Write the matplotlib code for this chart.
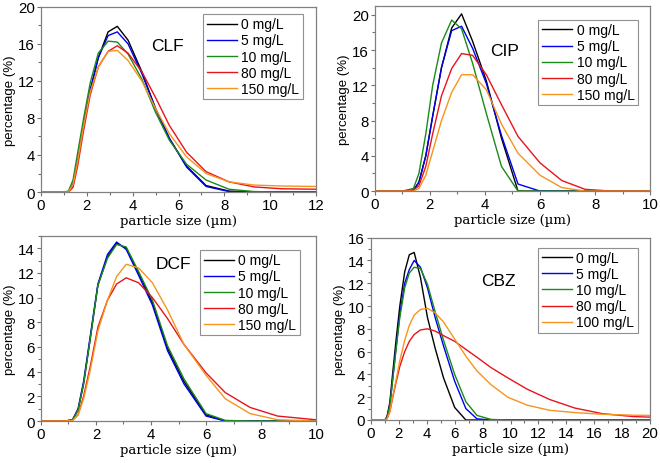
import numpy as np
import matplotlib
matplotlib.use("Agg")
import matplotlib.pyplot as plt
from matplotlib.ticker import MultipleLocator

plt.rcParams['font.family'] = ['Liberation Sans', 'DejaVu Sans']

# ── data ───────────────────────────────────────────────────────────────────────
labels = ['0 mg/L', '5 mg/L', '10 mg/L', '80 mg/L', '150 mg/L']
labels_cbz = ['0 mg/L', '5 mg/L', '10 mg/L', '80 mg/L', '100 mg/L']
colors = ['#000000', '#0000ee', '#1a8a1a', '#e8141c', '#f7941d']

# CLF
clf_x = [0, 0.5, 1.0, 1.2, 1.4, 1.6, 1.85, 2.15, 2.5, 2.93, 3.33, 3.8, 4.4,
         5.0, 5.6, 6.35, 7.2, 8.2, 9.3, 10.5, 12.0]
clf_0 = [0, 0, 0, 0, 0.8, 3.3, 7.0, 11.0, 14.5, 17.3, 17.9, 16.4, 13.0, 9.0, 5.8, 2.8, 0.7, 0.1, 0, 0, 0]
clf_5 = [0, 0, 0, 0, 0.8, 3.3, 7.0, 11.0, 14.5, 16.9, 17.3, 16.0, 12.8, 9.0, 5.8, 2.7, 0.6, 0.05, 0, 0, 0]
clf_10 = [0, 0, 0, 0.1, 1.3, 4.2, 7.8, 11.8, 15.0, 16.3, 16.2, 14.9, 12.2, 8.6, 5.6, 3.0, 1.3, 0.3, 0.05, 0, 0]
clf_80 = [0, 0, 0, 0, 0.5, 2.8, 6.5, 10.5, 13.5, 15.2, 15.8, 15.0, 13.0, 10.2, 7.2, 4.3, 2.2, 1.1, 0.55, 0.35, 0.3]
clf_150 = [0, 0, 0, 0, 0.8, 3.3, 7.0, 10.8, 13.5, 15.2, 15.3, 14.2, 12.0, 9.0, 6.3, 3.8, 2.0, 1.1, 0.75, 0.65, 0.6]

# CIP
cip_x = [0, 1.0, 1.4, 1.6, 1.85, 2.1, 2.42, 2.79, 3.15, 3.55, 4.05, 4.6, 5.2,
         6.0, 6.79, 7.64, 8.6, 10]
cip_0 = [0, 0, 0.1, 1.0, 4.0, 8.5, 14.0, 18.5, 20.1, 17.0, 12.5, 6.0, 0, 0, 0, 0, 0, 0]
cip_5 = [0, 0, 0.1, 1.0, 4.0, 8.5, 14.0, 18.2, 18.7, 16.2, 12.2, 6.3, 0.8, 0, 0, 0, 0, 0]
cip_10 = [0, 0, 0.3, 2.0, 6.5, 12.0, 16.8, 19.4, 18.4, 14.5, 8.8, 2.8, 0, 0, 0, 0, 0, 0]
cip_80 = [0, 0, 0.1, 0.6, 2.8, 6.5, 10.8, 13.9, 15.6, 15.4, 13.2, 9.8, 6.2, 3.2, 1.2, 0.2, 0, 0]
cip_150 = [0, 0, 0, 0.3, 1.8, 4.5, 8.0, 11.2, 13.2, 13.2, 11.5, 7.6, 4.3, 1.8, 0.4, 0, 0, 0]

# DCF
dcf_x = [0, 0.9, 1.15, 1.35, 1.55, 1.8, 2.07, 2.42, 2.75, 3.1, 3.55, 4.05, 4.6,
         5.2, 6.0, 6.7, 7.6, 8.6, 10]
dcf_0 = [0, 0, 0.1, 0.9, 3.0, 6.8, 11.0, 13.3, 14.4, 14.0, 12.0, 9.6, 5.9, 3.2, 0.5, 0, 0, 0, 0]
dcf_5 = [0, 0, 0.1, 1.0, 3.2, 7.0, 11.1, 13.5, 14.5, 13.9, 11.8, 9.4, 5.7, 3.0, 0.4, 0, 0, 0, 0]
dcf_10 = [0, 0, 0.1, 0.9, 3.0, 6.8, 11.0, 13.2, 14.3, 14.1, 12.1, 9.8, 6.1, 3.4, 0.6, 0.05, 0, 0, 0]
dcf_80 = [0, 0, 0.05, 0.5, 2.0, 4.5, 7.6, 9.8, 11.1, 11.6, 11.2, 10.0, 8.3, 6.2, 3.9, 2.3, 1.1, 0.4, 0.1]
dcf_150 = [0, 0, 0.05, 0.5, 1.8, 4.2, 7.3, 9.8, 11.7, 12.7, 12.4, 11.2, 9.0, 6.2, 3.7, 1.8, 0.6, 0.1, 0]

# CBZ
cbz_x = [0, 1.0, 1.15, 1.35, 1.55, 1.8, 2.07, 2.42, 2.75, 3.1, 3.55, 4.05, 4.6,
         5.2, 6.0, 6.8, 7.6, 8.6, 9.8, 11.2, 12.8, 14.6, 16.6, 18.8, 20]
cbz_0 = [0, 0, 0.3, 1.5, 4.0, 7.0, 10.0, 13.0, 14.5, 14.7, 12.5, 9.0, 6.3, 3.7, 1.1,
         0, 0, 0, 0, 0, 0, 0, 0, 0, 0]
cbz_5 = [0, 0, 0.2, 1.2, 3.5, 6.3, 9.3, 12.0, 13.2, 14.0, 13.4, 11.6, 9.0, 6.5, 3.4,
         1.0, 0.1, 0, 0, 0, 0, 0, 0, 0, 0]
cbz_10 = [0, 0, 0.2, 1.2, 3.4, 6.2, 9.0, 11.6, 12.9, 13.4, 13.3, 11.9, 9.5, 7.0, 4.0,
          1.6, 0.4, 0.05, 0, 0, 0, 0, 0, 0, 0]
cbz_80 = [0, 0, 0.1, 0.7, 1.9, 3.3, 4.7, 6.0, 6.9, 7.5, 7.9, 8.0, 7.8, 7.4, 6.9,
          6.2, 5.5, 4.6, 3.7, 2.7, 1.8, 1.05, 0.55, 0.3, 0.25]
cbz_100 = [0, 0, 0.1, 0.7, 2.0, 3.5, 5.2, 7.0, 8.3, 9.2, 9.7, 9.8, 9.4, 8.6, 7.1,
           5.6, 4.3, 3.1, 2.0, 1.3, 0.85, 0.65, 0.5, 0.42, 0.4]

# ── figure ─────────────────────────────────────────────────────────────────────
fig = plt.figure(figsize=(6.6, 4.64), dpi=100)

panels = [
    # name, x, series, labels, xmax, xstep, ymax, ystep, axes rect, name pos, legend anchor
    ('CLF', clf_x, [clf_0, clf_5, clf_10, clf_80, clf_150], labels,
     12, 2, 20, 4, [0.062, 0.584, 0.417, 0.399], (0.458, 0.79), (0.952, 0.962)),
    ('CIP', cip_x, [cip_0, cip_5, cip_10, cip_80, cip_150], labels,
     10, 2, 21, 4, [0.568, 0.586, 0.417, 0.399], (0.473, 0.757), (0.956, 0.925)),
    ('DCF', dcf_x, [dcf_0, dcf_5, dcf_10, dcf_80, dcf_150], labels,
     10, 2, 15, 2, [0.062, 0.0905, 0.417, 0.399], (0.48, 0.85), (0.941, 0.924)),
    ('CBZ', cbz_x, [cbz_0, cbz_5, cbz_10, cbz_80, cbz_100], labels_cbz,
     20, 2, 16, 2, [0.562, 0.0927, 0.423, 0.393], (0.455, 0.764), (0.956, 0.945)),
]

for name, x, series, labs, xmax, xstep, ymax, ystep, rect, tpos, lpos in panels:
    ax = fig.add_axes(rect)
    for y, lab, c in zip(series, labs, colors):
        ax.plot(x, y, color=c, lw=1.0, label=lab)
    ax.set_xlim(0, xmax)
    ax.set_ylim(0, ymax)
    ax.xaxis.set_major_locator(MultipleLocator(xstep))
    ax.xaxis.set_minor_locator(MultipleLocator(xstep / 2))
    ax.yaxis.set_major_locator(MultipleLocator(ystep))
    ax.yaxis.set_minor_locator(MultipleLocator(ystep / 2))
    ax.tick_params(which='both', direction='out', color='#707070', labelsize=10.8, pad=1.5)
    ax.tick_params(which='major', length=3, width=0.8)
    ax.tick_params(which='minor', length=2, width=0.8)
    for s in ax.spines.values():
        s.set_color('#808080')
        s.set_linewidth(0.9)
    ax.set_xlabel('particle size (µm)', family='DejaVu Serif', fontsize=9.5, labelpad=1.5)
    ax.set_ylabel('percentage (%)', fontsize=9.5, labelpad=1.5)
    ax.text(tpos[0], tpos[1], name, transform=ax.transAxes, fontsize=12.5,
            ha='center', va='center')
    leg = ax.legend(loc='upper right', bbox_to_anchor=lpos, fontsize=10,
                    handlelength=2.2, handletextpad=0.3, labelspacing=0.15,
                    borderpad=0.25, borderaxespad=0, fancybox=False,
                    edgecolor='#909090', framealpha=1)
    leg.get_frame().set_linewidth(0.8)

fig.savefig('out.png', dpi=100)
